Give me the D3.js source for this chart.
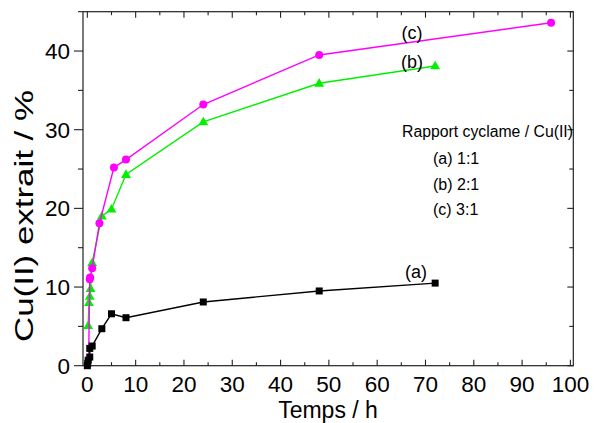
<!DOCTYPE html>
<html><head><meta charset="utf-8">
<script src="https://cdn.jsdelivr.net/npm/d3@7"></script>
<style>body{margin:0;background:#fff}svg{display:block}text{font-family:"Liberation Sans",Arial,sans-serif;fill:#000}</style>
</head><body><svg id="c" width="595" height="423"></svg>
<script>
// Data
const timeA = [0, 0.08, 0.17, 0.5, 0.5, 1, 3, 5, 8, 24, 48, 72];
const valA  = [0, 0.3, 0.7, 1.1, 2.2, 2.5, 4.7, 6.6, 6.1, 8.1, 9.5, 10.5];
const timeB = [0.17, 0.33, 0.5, 0.67, 1, 3, 5, 8, 24, 48, 72];
const valB  = [5.1, 8.0, 8.8, 9.8, 13.1, 19.0, 19.9, 24.3, 31.0, 35.9, 38.1];
const timeC = [0.25, 0.5, 0.58, 1, 2.5, 5.5, 8, 24, 48, 96];
const valC  = [0, 11.0, 11.2, 12.4, 18.1, 25.2, 26.2, 33.2, 39.5, 43.6];
const xTicks = [0, 10, 20, 30, 40, 50, 60, 70, 80, 90, 100];
const yTicks = [0, 10, 20, 30, 40];
const seriesLabels = ["(a)", "(b)", "(c)"];
const legendTitle = "Rapport cyclame / Cu(II)";
const legendItems = ["(a) 1:1", "(b) 2:1", "(c) 3:1"];

const svg = d3.select("#c");
const L = 83, R = 573.3, T = 11.7, B = 365.7;
const x = d3.scaleLinear().domain([-0.9, 100.6]).range([L, R]);
const y = d3.scaleLinear().domain([0, 45]).range([B, T]);

const minorX = d3.range(0, 101, 5);
const minorY = d3.range(0, 46, 5);

// frame
svg.append("rect").attr("x", L).attr("y", T).attr("width", R - L).attr("height", B - T)
  .attr("fill", "none").attr("stroke", "#222").attr("stroke-width", 1.2);

const tk = svg.append("g").attr("stroke", "#222").attr("stroke-width", 1.1);
minorX.forEach(v => {
  const major = v % 10 === 0;
  const len = major ? 6 : 3.5;
  tk.append("line").attr("x1", x(v)).attr("x2", x(v)).attr("y1", B).attr("y2", B - len);
  tk.append("line").attr("x1", x(v)).attr("x2", x(v)).attr("y1", T).attr("y2", T + len);
});
minorY.forEach(v => {
  const major = v % 10 === 0;
  tk.append("line").attr("x1", L).attr("x2", L - (major ? 9 : 5)).attr("y1", y(v)).attr("y2", y(v));
  tk.append("line").attr("x1", R).attr("x2", R - (major ? 6 : 4)).attr("y1", y(v)).attr("y2", y(v));
});

// tick labels
svg.append("g").selectAll("text").data(xTicks).join("text")
  .attr("x", d => x(d)).attr("y", 392.3).attr("text-anchor", "middle")
  .attr("font-size", 22.5).text(d => d);
svg.append("g").selectAll("text").data(yTicks).join("text")
  .attr("x", 70).attr("y", d => y(d) + 8.1).attr("text-anchor", "end")
  .attr("font-size", 22.5).text(d => d);

// axis titles
svg.append("text").attr("x", 328).attr("y", 418).attr("text-anchor", "middle")
  .attr("font-size", 23).text("Temps / h");
svg.append("text").attr("transform", "translate(33,216) rotate(-90)")
  .attr("text-anchor", "middle").attr("font-size", 26)
  .attr("textLength", 252).attr("lengthAdjust", "spacingAndGlyphs")
  .text("Cu(II) extrait / %");

const line = d3.line().x(d => x(d[0])).y(d => y(d[1]));
const zip = (a, b) => a.map((t, i) => [t, b[i]]);
const dB = zip(timeB, valB), dC = zip(timeC, valC), dA = zip(timeA, valA);

// green (b)
svg.append("path").datum(dB).attr("d", line).attr("fill", "none").attr("stroke", "#00f000").attr("stroke-width", 1.4);
svg.append("g").selectAll("path").data(dB).join("path")
  .attr("d", d3.symbol(d3.symbolTriangle, 42))
  .attr("transform", d => `translate(${x(d[0])},${y(d[1]) + 0.5})`).attr("fill", "#00f000");

// magenta (c)
svg.append("path").datum(dC).attr("d", line).attr("fill", "none").attr("stroke", "#ff00ff").attr("stroke-width", 1.4);
svg.append("g").selectAll("circle").data(dC.slice(1)).join("circle")
  .attr("cx", d => x(d[0])).attr("cy", d => y(d[1])).attr("r", 4).attr("fill", "#ff00ff");

// black (a)
svg.append("path").datum(dA).attr("d", line).attr("fill", "none").attr("stroke", "#000").attr("stroke-width", 1.4);
svg.append("g").selectAll("rect").data(dA).join("rect")
  .attr("x", d => x(d[0]) - 3.5).attr("y", d => y(d[1]) - 3.5).attr("width", 7).attr("height", 7).attr("fill", "#000");

// series labels
const lab = svg.append("g").attr("font-size", 18);
lab.append("text").attr("x", 416).attr("y", 278).attr("text-anchor", "middle").text(seriesLabels[0]);
lab.append("text").attr("x", 412).attr("y", 68).attr("text-anchor", "middle").text(seriesLabels[1]);
lab.append("text").attr("x", 412).attr("y", 38.5).attr("text-anchor", "middle").text(seriesLabels[2]);

// legend text
const lg = svg.append("g").attr("font-size", 16);
lg.append("text").attr("x", 402).attr("y", 137).attr("textLength", 171).attr("lengthAdjust", "spacingAndGlyphs").text(legendTitle);
legendItems.forEach((t, i) => {
  lg.append("text").attr("x", 433).attr("y", 164 + i * 25.5).text(t);
});
</script></body></html>
